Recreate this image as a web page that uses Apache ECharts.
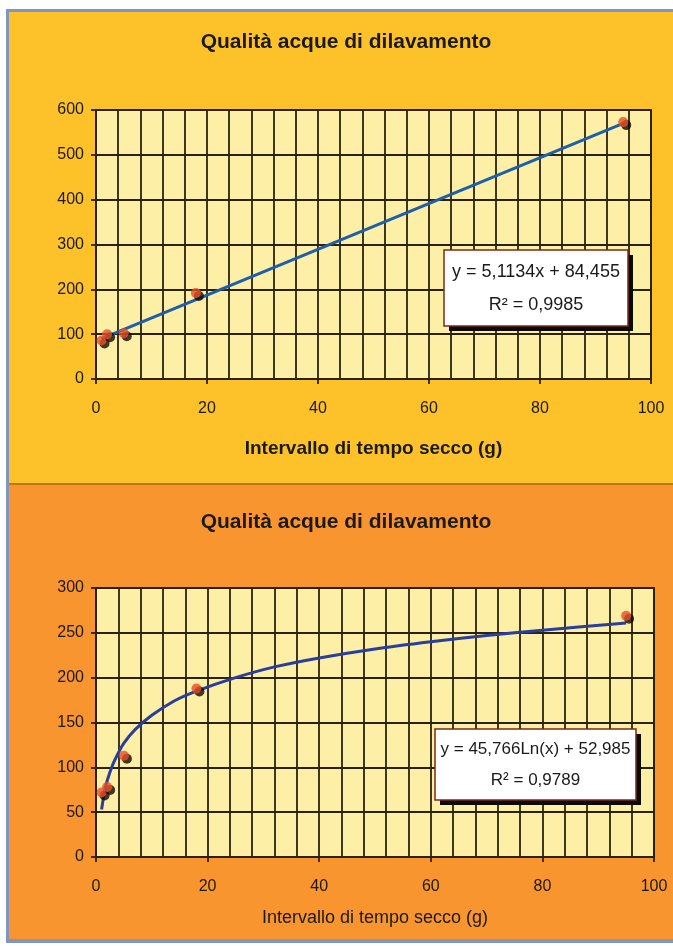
<!DOCTYPE html>
<html>
<head>
<meta charset="utf-8">
<script src="https://cdn.jsdelivr.net/npm/echarts@6/dist/echarts.min.js"></script>
<style>
  html, body { margin: 0; padding: 0; background: #ffffff; }
  #chart { width: 673px; height: 946px; }
</style>
</head>
<body>
<div id="chart"></div>
<script>
// dati
const titolo = 'Qualità acque di dilavamento';
const nomeAsseX = 'Intervallo di tempo secco (g)';

// grafico lineare (sopra)
const puntiLin = [[1, 86], [2, 100], [5, 102], [18, 192], [95, 573]];
const trendLin = [[1, 90], [95, 570]];
const eqLin = ['y = 5,1134x + 84,455', 'R² = 0,9985'];

// grafico logaritmico (sotto)
const puntiLog = [[1, 72], [2, 78], [5, 113], [18, 188], [95, 269]];
const trendLogX = [1, 1.5, 2, 3, 4, 5, 7, 10, 14, 18, 25, 32, 40, 50, 60, 70, 80, 95];
const trendLogY = [53, 72, 85, 103, 116, 127, 142, 158, 174, 185, 200, 212, 222, 232, 240, 247, 253, 261];
const eqLog = ['y = 45,766Ln(x) + 52,985', 'R² = 0,9789'];

const gridCol = '#2a220f';
const txtCol = '#1a1a1a';
const fontFam = '"Liberation Sans", Arial, sans-serif';

const chart = echarts.init(document.getElementById('chart'));

function xAxis(idx, gap, bold) {
  return {
    type: 'value', gridIndex: idx, min: 0, max: 100, interval: 20,
    name: nomeAsseX, nameLocation: 'middle', nameGap: gap,
    nameTextStyle: { color: txtCol, fontSize: bold ? 19 : 18, fontWeight: bold ? 'bold' : 'normal', fontFamily: fontFam },
    axisLine: { show: true, lineStyle: { color: gridCol, width: 1.8 } },
    axisTick: { show: true, length: 5, lineStyle: { color: gridCol, width: 1.8 } },
    axisLabel: { color: txtCol, fontSize: 16, margin: 22, fontFamily: fontFam },
    splitLine: { show: true, lineStyle: { color: gridCol, width: 1.8 } },
    minorTick: { show: false, splitNumber: 5 },
    minorSplitLine: { show: true, lineStyle: { color: gridCol, width: 1.8 } }
  };
}

function yAxis(idx, max, step) {
  return {
    type: 'value', gridIndex: idx, min: 0, max: max, interval: step,
    axisLine: { show: true, lineStyle: { color: gridCol, width: 1.8 } },
    axisTick: { show: true, length: 5, lineStyle: { color: gridCol, width: 1.8 } },
    axisLabel: { color: txtCol, fontSize: 16, margin: 12, fontFamily: fontFam },
    splitLine: { show: true, lineStyle: { color: gridCol, width: 1.8 } }
  };
}

const markerStyle = {
  color: '#e5502a',
  shadowColor: 'rgba(20,8,2,1)',
  shadowBlur: 0,
  shadowOffsetX: 3,
  shadowOffsetY: 3
};

function eqBox(x, y, w, h, lines, size) {
  const font = size + 'px ' + fontFam;
  return [
    { type: 'rect', z: 100, shape: { x: x + 5, y: y + 5, width: w, height: h }, style: { fill: '#0a0a0a' } },
    { type: 'rect', z: 101, shape: { x: x, y: y, width: w, height: h },
      style: { fill: '#ffffff', stroke: '#7a2a1a', lineWidth: 1.5 } },
    { type: 'text', z: 102, x: x + w / 2, y: y + h * 0.29,
      style: { text: lines[0], fill: txtCol, font: font, align: 'center', verticalAlign: 'middle' } },
    { type: 'text', z: 102, x: x + w / 2, y: y + h * 0.72,
      style: { text: lines[1], fill: txtCol, font: font, align: 'center', verticalAlign: 'middle' } }
  ];
}

chart.setOption({
  animation: false,
  title: [
    { text: titolo, left: 341, top: 27, textAlign: 'center',
      textStyle: { fontSize: 21, fontWeight: 'bold', color: txtCol, fontFamily: fontFam } },
    { text: titolo, left: 341, top: 507, textAlign: 'center',
      textStyle: { fontSize: 21, fontWeight: 'bold', color: txtCol, fontFamily: fontFam } }
  ],
  graphic: [
    { type: 'rect', z: -10, shape: { x: 6, y: 9, width: 667, height: 934 }, style: { fill: '#8096bf' } },
    { type: 'rect', z: -9, shape: { x: 9, y: 12, width: 664, height: 472 }, style: { fill: '#fdc229' } },
    { type: 'rect', z: -9, shape: { x: 9, y: 483, width: 664, height: 2 }, style: { fill: '#b8781e' } },
    { type: 'rect', z: -9, shape: { x: 9, y: 485, width: 664, height: 454 }, style: { fill: '#f8952e' } }
  ].concat(eqBox(444, 250, 184, 76, eqLin, 18), eqBox(435, 729, 201, 71, eqLog, 17)),
  grid: [
    { left: 96, top: 110, width: 555, height: 269, show: true,
      backgroundColor: '#fdefa6', borderColor: gridCol, borderWidth: 1.8 },
    { left: 96, top: 588, width: 558, height: 269, show: true,
      backgroundColor: '#fdefa6', borderColor: gridCol, borderWidth: 1.8 }
  ],
  xAxis: [xAxis(0, 60, true), xAxis(1, 52, false)],
  yAxis: [yAxis(0, 600, 100), yAxis(1, 300, 50)],
  series: [
    {
      type: 'line', xAxisIndex: 0, yAxisIndex: 0, data: trendLin,
      symbol: 'none', z: 3, lineStyle: { color: '#1f5ea8', width: 3 }
    },
    {
      type: 'scatter', xAxisIndex: 0, yAxisIndex: 0, data: puntiLin,
      symbolSize: 10, z: 5, itemStyle: markerStyle
    },
    {
      type: 'line', xAxisIndex: 1, yAxisIndex: 1,
      data: trendLogX.map((x, i) => [x, trendLogY[i]]),
      symbol: 'none', smooth: 0.3, z: 3, lineStyle: { color: '#2a3f9c', width: 3 }
    },
    {
      type: 'scatter', xAxisIndex: 1, yAxisIndex: 1, data: puntiLog,
      symbolSize: 10, z: 5, itemStyle: markerStyle
    }
  ]
});
</script>
</body>
</html>
